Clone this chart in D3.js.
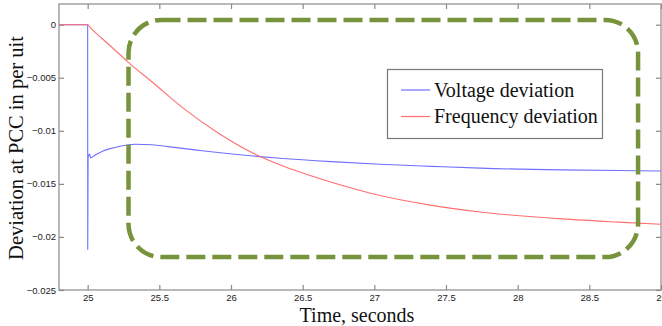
<!DOCTYPE html>
<html>
<head>
<meta charset="utf-8">
<script src="https://cdn.jsdelivr.net/npm/d3@7"></script>
<style>
  html, body { margin: 0; padding: 0; background: #fff; }
  svg { display: block; }
</style>
</head>
<body>
<svg id="chart" width="662" height="326"></svg>
<script>
// ---- data ----
const timeV = [24.8, 25, 25.0005, 25.003, 25.014, 25.02, 25.05, 25.1, 25.15, 25.214, 25.33, 25.45, 25.56, 25.75, 25.91, 26.2, 26.34, 26.7, 27.04, 27.4, 27.74, 28.31, 28.7, 29];
const voltageDev = [0, 0, -0.0212, -0.0125, -0.0122, -0.01255, -0.0123, -0.01195, -0.0117, -0.01149, -0.01126, -0.01132, -0.01149, -0.0118, -0.01205, -0.01243, -0.01258, -0.0129, -0.01315, -0.01335, -0.01352, -0.01368, -0.01374, -0.01378];
const timeF = [24.8, 25, 25.02, 25.05, 25.1, 25.2, 25.28, 25.45, 25.68, 25.91, 26.2, 26.34, 26.69, 27.04, 27.39, 27.74, 28.31, 28.7, 29];
const freqDev = [0, 0, -0.0003, -0.0007, -0.0013, -0.0025, -0.0035, -0.0054, -0.0080, -0.0102, -0.0124, -0.0132, -0.0148, -0.0161, -0.0170, -0.01765, -0.0183, -0.0186, -0.0188];
const xTicks = [25, 25.5, 26, 26.5, 27, 27.5, 28, 28.5, 29];
const yTicks = [0, -0.005, -0.01, -0.015, -0.02, -0.025];
const seriesNames = ["Voltage deviation", "Frequency deviation"];
const seriesColors = ["#6f6fff", "#ff6f6f"];
const xTitle = "Time, seconds";
const yTitle = "Deviation at PCC in per uit";
// highlight box (in data coordinates)
const boxX = [25.285, 28.84];
const boxY = [-0.0219, 0.00045];

const svg = d3.select("#chart");
const L = 59, R = 661, T = 4, B = 290;
const x = d3.scaleLinear().domain([24.8, 29]).range([L, R]);
const y = d3.scaleLinear().domain([-0.025, 0.00195]).range([B, T]);

const axisColor = "#8a8a8a";
const tickLen = 5;

// frame
svg.append("rect").attr("x", L).attr("y", T).attr("width", R - L).attr("height", B - T)
  .attr("fill", "none").attr("stroke", axisColor).attr("stroke-width", 1.2);

// bottom axis
const gx = svg.append("g").attr("transform", `translate(0,${B})`)
  .call(d3.axisBottom(x).tickValues(xTicks).tickSize(-tickLen).tickPadding(4).tickFormat(d3.format("")));
// top ticks
const gxt = svg.append("g").attr("transform", `translate(0,${T})`)
  .call(d3.axisTop(x).tickValues(xTicks).tickSize(-tickLen).tickFormat(""));
// left axis
const gy = svg.append("g").attr("transform", `translate(${L},0)`)
  .call(d3.axisLeft(y).tickValues(yTicks).tickSize(-tickLen).tickPadding(3).tickFormat(d => d === 0 ? "0" : d3.format("")(+d.toFixed(3))));
// right ticks
const gyr = svg.append("g").attr("transform", `translate(${R},0)`)
  .call(d3.axisRight(y).tickValues(yTicks).tickSize(-tickLen).tickFormat(""));

[gx, gxt, gy, gyr].forEach(g => {
  g.select(".domain").remove();
  g.selectAll(".tick line").attr("stroke", axisColor).attr("stroke-width", 1.2);
  g.selectAll(".tick text").attr("fill", "#222").attr("font-family", "Liberation Sans, Arial, sans-serif").attr("font-size", "9.5px");
});

// lines
const lineGen = d3.line().x(d => x(d[0])).y(d => y(d[1])).curve(d3.curveMonotoneX);
const vData = timeV.map((t, i) => [t, voltageDev[i]]);
const fData = timeF.map((t, i) => [t, freqDev[i]]);
svg.append("path").datum(vData).attr("d", lineGen).attr("fill", "none")
  .attr("stroke", seriesColors[0]).attr("stroke-width", 1.1);
svg.append("path").datum(fData).attr("d", lineGen).attr("fill", "none")
  .attr("stroke", seriesColors[1]).attr("stroke-width", 1.1);

// legend
const lg = svg.append("g");
lg.append("rect").attr("x", 387.5).attr("y", 69.5).attr("width", 215).attr("height", 69)
  .attr("fill", "#fff").attr("stroke", "#777").attr("stroke-width", 1.2);
seriesNames.forEach((name, i) => {
  const yy = 90 + i * 26.5;
  lg.append("line").attr("x1", 401).attr("x2", 430).attr("y1", yy).attr("y2", yy)
    .attr("stroke", seriesColors[i]).attr("stroke-width", 1.2);
  lg.append("text").attr("x", 434).attr("y", yy + 6.5).text(name)
    .attr("font-family", "Liberation Serif, Times New Roman, serif").attr("font-size", "20px").attr("fill", "#111");
});

// dashed highlight box
svg.append("rect")
  .attr("x", x(boxX[0])).attr("y", y(boxY[1]))
  .attr("width", x(boxX[1]) - x(boxX[0])).attr("height", y(boxY[0]) - y(boxY[1]))
  .attr("rx", 33).attr("ry", 33)
  .attr("fill", "none").attr("stroke", "#77933c").attr("stroke-width", 4.5)
  .attr("stroke-dasharray", "19,7").attr("stroke-dashoffset", 0);

// axis titles
svg.append("text").attr("x", 357).attr("y", 321.5).attr("text-anchor", "middle")
  .attr("font-family", "Liberation Serif, Times New Roman, serif").attr("font-size", "20px").attr("fill", "#111")
  .text(xTitle);
svg.append("text").attr("transform", `translate(23,148) rotate(-90)`).attr("text-anchor", "middle")
  .attr("font-family", "Liberation Serif, Times New Roman, serif").attr("font-size", "20.5px").attr("fill", "#111")
  .text(yTitle);
</script>
</body>
</html>
